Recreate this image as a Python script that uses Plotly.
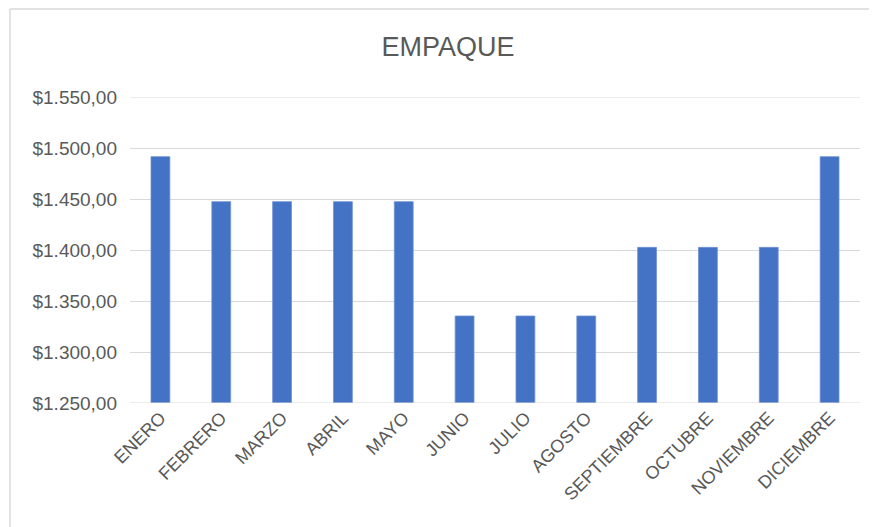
import plotly.graph_objects as go

meses = ["ENERO", "FEBRERO", "MARZO", "ABRIL", "MAYO", "JUNIO", "JULIO",
         "AGOSTO", "SEPTIEMBRE", "OCTUBRE", "NOVIEMBRE", "DICIEMBRE"]
valores = [1491.5, 1447.4, 1447.4, 1447.4, 1447.4, 1335.3, 1335.3,
           1335.3, 1402.6, 1402.6, 1402.6, 1491.5]
tick_vals = [1250, 1300, 1350, 1400, 1450, 1500, 1550]
tick_text = ["$1.250,00", "$1.300,00", "$1.350,00", "$1.400,00",
             "$1.450,00", "$1.500,00", "$1.550,00"]

# page body has an 8px margin; compensate so the screenshot lines up
OFF = 8
W, H = 877, 527
ml, mt = 130 - OFF, 97 - OFF
pw, ph = 730, 306
mr = W - ml - pw
mb = H - mt - ph

fig = go.Figure(go.Bar(
    x=meses, y=valores,
    marker=dict(color="#4472C4", line=dict(color="#6F93D4", width=0.8)),
    width=0.31,
))

grey = "#595959"
font = "Liberation Sans, Arial, sans-serif"

def px_x(x):
    return (x - OFF - ml) / pw

def px_y(y):
    return 1 - (y - OFF - mt) / ph

fig.update_layout(
    width=W, height=H,
    margin=dict(l=ml, r=mr, t=mt, b=mb, autoexpand=False),
    paper_bgcolor="white", plot_bgcolor="white",
    font=dict(family=font, color=grey, size=18),
    title=dict(text="EMPAQUE", x=(448 - OFF) / W, xref="container", xanchor="center",
               y=1 - (47 - OFF) / H, yref="container", yanchor="middle",
               font=dict(size=27, color=grey, family=font)),
    showlegend=False,
    bargap=0.69,
    xaxis=dict(tickangle=-45, showgrid=False, showline=False, ticks="",
               tickfont=dict(size=18, color=grey)),
    yaxis=dict(range=[1250, 1550], tickvals=tick_vals, ticktext=tick_text,
               showgrid=True, gridcolor="#D9D9D9", gridwidth=1,
               zeroline=False, showline=False, ticks="",
               ticklabelstandoff=12,
               tickfont=dict(size=19, color=grey)),
    shapes=[
        dict(type="line", xref="paper", yref="paper",
             x0=px_x(10), x1=px_x(877), y0=px_y(9), y1=px_y(9),
             line=dict(color="#D9D9D9", width=1.5)),
        dict(type="line", xref="paper", yref="paper",
             x0=px_x(10), x1=px_x(10), y0=px_y(9), y1=px_y(527),
             line=dict(color="#D9D9D9", width=1.5)),
        dict(type="line", xref="paper", yref="y",
             x0=0, x1=1, y0=1550, y1=1550,
             line=dict(color="#D9D9D9", width=1)),
        dict(type="line", xref="paper", yref="y",
             x0=0, x1=1, y0=1250, y1=1250,
             line=dict(color="#D9D9D9", width=1)),
    ],
)

fig.write_html("out.html")
